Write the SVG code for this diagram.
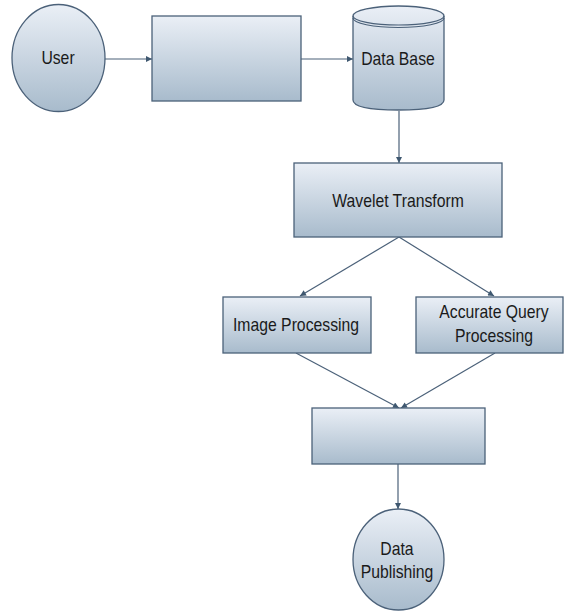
<svg xmlns="http://www.w3.org/2000/svg" width="564" height="611" viewBox="0 0 564 611">
  <defs>
    <linearGradient id="fill" x1="0" y1="0" x2="0" y2="1">
      <stop offset="0" stop-color="#eaeff6"/>
      <stop offset="1" stop-color="#a8bbcc"/>
    </linearGradient>
    <marker id="arrow" viewBox="0 0 10 10" refX="10" refY="5" markerWidth="8" markerHeight="6" markerUnits="userSpaceOnUse" orient="auto">
      <path d="M0,0 L10,5 L0,10 z" fill="#3f5870"/>
    </marker>
  </defs>
  <style>
    .shape { fill: url(#fill); stroke: #4b6179; stroke-width: 1.3; }
    .edge { fill: none; stroke: #4b6179; stroke-width: 1.2; marker-end: url(#arrow); }
    text { font-family: "Liberation Sans", Arial, sans-serif; font-size: 19px; fill: #1a1a1a; text-anchor: middle; }
  </style>
  <rect width="564" height="611" fill="#ffffff"/>

  <g id="connectors">
    <line class="edge" x1="105" y1="59" x2="152" y2="59"/>
    <line class="edge" x1="301" y1="59" x2="353" y2="59"/>
    <line class="edge" x1="399" y1="111" x2="399" y2="163"/>
    <line class="edge" x1="399" y1="237" x2="300" y2="296"/>
    <line class="edge" x1="399" y1="237" x2="494" y2="296"/>
    <line class="edge" x1="296" y1="353" x2="399" y2="408"/>
    <line class="edge" x1="495" y1="353" x2="401" y2="408"/>
    <line class="edge" x1="398" y1="464" x2="398" y2="509"/>
  </g>

  <g id="user">
    <ellipse class="shape" cx="58.5" cy="58" rx="46.5" ry="53.5"/>
    <text transform="translate(58,64) scale(0.83,1)">User</text>
  </g>

  <g id="input-box">
    <rect class="shape" x="152" y="16" width="149" height="85"/>
  </g>

  <g id="database">
    <path class="shape" d="M353,16 A45.5,10 0 0 1 444,16 L444,100 Q444,110 398.5,110 Q353,110 353,100 Z"/>
    <path d="M353,16 A45.5,9 0 0 0 444,16" fill="none" stroke="#4b6179" stroke-width="1.2"/>
    <path d="M353,18 A45.5,9.5 0 0 0 444,18" fill="none" stroke="#4b6179" stroke-width="1.2"/>
    <text transform="translate(398,65) scale(0.83,1)">Data Base</text>
  </g>

  <g id="wavelet-transform">
    <rect class="shape" x="294" y="163" width="208" height="74"/>
    <text transform="translate(398,206.5) scale(0.83,1)">Wavelet Transform</text>
  </g>

  <g id="image-processing">
    <rect class="shape" x="223" y="297" width="148" height="56"/>
    <text transform="translate(296,331) scale(0.83,1)">Image Processing</text>
  </g>

  <g id="accurate-query-processing">
    <rect class="shape" x="416" y="297" width="147" height="56"/>
    <text transform="translate(494,318) scale(0.83,1)">Accurate Query</text>
    <text transform="translate(494,342) scale(0.83,1)">Processing</text>
  </g>

  <g id="merge-box">
    <rect class="shape" x="312" y="408" width="173" height="56"/>
  </g>

  <g id="data-publishing">
    <ellipse class="shape" cx="398.5" cy="559.5" rx="45.5" ry="50.5"/>
    <text transform="translate(397,555) scale(0.83,1)">Data</text>
    <text transform="translate(397,578) scale(0.83,1)">Publishing</text>
  </g>
</svg>
